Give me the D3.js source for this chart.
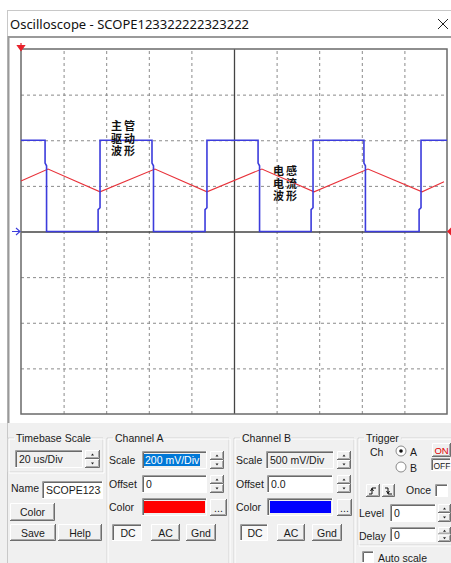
<!DOCTYPE html>
<html>
<head>
<meta charset="utf-8">
<script src="https://cdn.jsdelivr.net/npm/d3@7"></script>
<style>
  html, body { margin: 0; padding: 0; background: #ffffff; }
  svg { display: block; }
  .ui { font-family: "Liberation Sans", Arial, sans-serif; font-size: 10.5px; fill: #1a1a1a; }
</style>
</head>
<body>
<svg id="scope" width="451" height="563"></svg>
<script>
// ---- Screen settings ----
const timeDivUs = 20;          // 20 us/Div
const chAScaleV = 0.2;         // 200 mV/Div
const chBScaleV = 0.5;         // 500 mV/Div
const xDivs = 10, yDivs = 8;

// ---- Channel A (inductor current, red): time (us) / volts ----
const chATime = [0, 12.7, 37.1, 62.9, 87.3, 113.1, 137.6, 162.9, 188.3, 198.6];
const chAVolt = [0.221, 0.274, 0.174, 0.274, 0.174, 0.274, 0.174, 0.274, 0.174, 0.218];

// ---- Channel B (switch drive, blue): time (us) / volts ----
const chBTime = [0,
  11.3, 11.3, 12.0, 12.0,   36.2, 36.2, 37.1, 37.1,
  61.5, 61.5, 62.2, 62.2,   86.4, 86.4, 87.3, 87.3,
  111.3, 111.3, 112.0, 112.0, 136.2, 136.2, 137.1, 137.1,
  161.0, 161.0, 161.7, 161.7, 186.9, 186.9, 187.8, 187.8,
  200];
const chBVolt = [1,
  1, 0.75, 0.72, 0,   0, 0.24, 0.26, 1,
  1, 0.75, 0.72, 0,   0, 0.24, 0.26, 1,
  1, 0.75, 0.72, 0,   0, 0.24, 0.26, 1,
  1, 0.75, 0.72, 0,   0, 0.24, 0.26, 1,
  1];

// ---- Annotation texts ----
const driveLabel = ["主管", "驱动", "波形"];
const currentLabel = ["电感", "电流", "波形"];

const svg = d3.select("#scope");

// ---------- window chrome ----------
svg.append("rect").attr("x", 0).attr("y", 423).attr("width", 451).attr("height", 140).attr("fill", "#f0f0f0");
svg.append("line").attr("x1", 7).attr("x2", 451).attr("y1", 10.5).attr("y2", 10.5).attr("stroke", "#c8c8c8");
svg.append("line").attr("x1", 7.5).attr("x2", 7.5).attr("y1", 10).attr("y2", 563).attr("stroke", "#c8c8c8");
svg.append("text").attr("x", 10).attr("y", 29)
  .style("font-family", "'Noto Sans', sans-serif").style("font-size", "13px").style("fill", "#111")
  .text("Oscilloscope - SCOPE123322222323222");
svg.append("path").attr("d", "M438,19 L448,29 M448,19 L438,29").attr("stroke", "#222").attr("stroke-width", 1);
// display frame
svg.append("line").attr("x1", 8).attr("x2", 451).attr("y1", 37).attr("y2", 37).attr("stroke", "#9a9a9a").attr("stroke-width", 2);
svg.append("line").attr("x1", 8.5).attr("x2", 8.5).attr("y1", 36).attr("y2", 423).attr("stroke", "#9a9a9a").attr("stroke-width", 2);

// ---------- plot ----------
const plot = { left: 21, right: 447, top: 49, bottom: 414 };
const x = d3.scaleLinear().domain([0, xDivs * timeDivUs]).range([plot.left, plot.right]);
const yA = d3.scaleLinear().domain([-yDivs / 2 * chAScaleV, yDivs / 2 * chAScaleV]).range([plot.bottom, plot.top]);
const yB = d3.scaleLinear().domain([-yDivs / 2 * chBScaleV, yDivs / 2 * chBScaleV]).range([plot.bottom, plot.top]);

const g = svg.append("g");
g.append("rect").attr("x", plot.left).attr("y", plot.top)
  .attr("width", plot.right - plot.left).attr("height", plot.bottom - plot.top).attr("fill", "#fff");

// dotted division grid from the axes
const xTicks = d3.range(1, xDivs).map(i => i * timeDivUs);
const yTicks = d3.range(1, yDivs).map(i => -yDivs / 2 * chAScaleV + i * chAScaleV);

const gx = g.append("g").attr("transform", `translate(0,${plot.bottom})`)
  .call(d3.axisBottom(x).tickValues(xTicks).tickSize(-(plot.bottom - plot.top)).tickFormat(""));
const gy = g.append("g").attr("transform", `translate(${plot.left},0)`)
  .call(d3.axisLeft(yA).tickValues(yTicks).tickSize(-(plot.right - plot.left)).tickFormat(""));
[gx, gy].forEach(a => {
  a.select(".domain").remove();
  a.selectAll(".tick line").attr("stroke", "#8a8a8a").attr("stroke-dasharray", "3,3");
});
gx.selectAll(".tick line").filter(d => d === xDivs / 2 * timeDivUs)
  .attr("stroke", "#444").attr("stroke-dasharray", null).attr("stroke-width", 1.3);
gy.selectAll(".tick line").filter(d => Math.abs(d) < 1e-9)
  .attr("stroke", "#444").attr("stroke-dasharray", null).attr("stroke-width", 1.3);

g.append("rect").attr("x", plot.left).attr("y", plot.top)
  .attr("width", plot.right - plot.left).attr("height", plot.bottom - plot.top)
  .attr("fill", "none").attr("stroke", "#6a6a6a").attr("stroke-width", 1.5);

// traces
const lineA = d3.line().x((d, i) => x(chATime[i])).y((d, i) => yA(chAVolt[i]));
const lineB = d3.line().x((d, i) => x(chBTime[i])).y((d, i) => yB(chBVolt[i]));
g.append("path").datum(chAVolt).attr("d", lineA).attr("fill", "none").attr("stroke", "#e8323a").attr("stroke-width", 1.1);
g.append("path").datum(chBVolt).attr("d", lineB).attr("fill", "none").attr("stroke", "#3c3cdc").attr("stroke-width", 1.6);

// trigger / ground markers
g.append("path").attr("d", `M${plot.left},43 V50 M${plot.left - 3.5},45.5 L${plot.left + 3.5},45.5 L${plot.left},50.5 Z`)
  .attr("stroke", "#e8202a").attr("fill", "#e8202a").attr("stroke-width", 1.2);
g.append("path").attr("d", `M12,${yB(0)} H${plot.left - 1} M${plot.left - 5},${yB(0) - 3.5} L${plot.left - 1},${yB(0)} L${plot.left - 5},${yB(0) + 3.5}`)
  .attr("stroke", "#3c3cdc").attr("fill", "none").attr("stroke-width", 1.1);
g.append("path").attr("d", `M${plot.right},${yA(0)} L451,${yA(0) - 4} L451,${yA(0) + 4} Z`).attr("fill", "#e8202a");

// annotations: one stacked, three-line text block each
function note(lines, xLeft, yFirst) {
  g.append("text")
    .style("font-family", "'Noto Sans CJK SC', sans-serif").style("font-size", "11px")
    .style("font-weight", "bold").style("letter-spacing", "2px").attr("fill", "#111")
    .selectAll("tspan").data(lines).join("tspan")
    .attr("x", xLeft).attr("y", (d, i) => yFirst + i * 12.5).text(d => d);
}
note(driveLabel, 111, 130);
note(currentLabel, 273, 175);

// ---------- control panel ----------
const ui = svg.append("g").attr("class", "ui");

function label(xp, yp, t) {
  return ui.append("text").attr("x", xp).attr("y", yp).text(t);
}
function group(x0, y0, x1, y1, title, titleW) {
  const p = `M${x0 + 6},${y0} H${x0} V${y1} H${x1} V${y0} H${x0 + 8 + titleW}`;
  ui.append("path").attr("d", p).attr("fill", "none").attr("stroke", "#d5d5d5").attr("stroke-width", 1);
  ui.append("path").attr("d", p).attr("transform", "translate(1,1)").attr("fill", "none").attr("stroke", "#ffffff").attr("stroke-width", 1);
  label(x0 + 8, y0 + 4, title);
}
function raised(x0, y0, w, h, t, color, size) {
  ui.append("rect").attr("x", x0).attr("y", y0).attr("width", w).attr("height", h).attr("fill", "#f0f0f0");
  ui.append("path").attr("d", `M${x0 + 0.5},${y0 + h} V${y0 + 0.5} H${x0 + w}`).attr("stroke", "#ffffff").attr("fill", "none");
  ui.append("path").attr("d", `M${x0},${y0 + h - 0.5} H${x0 + w - 0.5} V${y0}`).attr("stroke", "#6e6e6e").attr("fill", "none");
  ui.append("path").attr("d", `M${x0 + 1},${y0 + h - 1.5} H${x0 + w - 1.5} V${y0 + 1}`).attr("stroke", "#a8a8a8").attr("fill", "none");
  if (t) ui.append("text").attr("x", x0 + w / 2).attr("y", y0 + h / 2 + 4).attr("text-anchor", "middle")
    .style("fill", color || "#1a1a1a").style("font-size", size || null).text(t);
}
function sunken(x0, y0, w, h, fill) {
  ui.append("rect").attr("x", x0).attr("y", y0).attr("width", w).attr("height", h).attr("fill", fill);
  ui.append("path").attr("d", `M${x0 + 0.5},${y0 + h} V${y0 + 0.5} H${x0 + w}`).attr("stroke", "#a0a0a0").attr("fill", "none");
  ui.append("path").attr("d", `M${x0 + 1.5},${y0 + h - 1} V${y0 + 1.5} H${x0 + w - 1}`).attr("stroke", "#696969").attr("fill", "none");
  ui.append("path").attr("d", `M${x0},${y0 + h - 0.5} H${x0 + w - 0.5} V${y0}`).attr("stroke", "#ffffff").attr("fill", "none");
}
function field(x0, y0, w, h, t, fill) {
  sunken(x0, y0, w, h, fill);
  const id = "clip" + Math.round(x0) + "_" + Math.round(y0);
  svg.append("clipPath").attr("id", id).append("rect").attr("x", x0 + 2).attr("y", y0 + 2).attr("width", w - 4).attr("height", h - 4);
  ui.append("text").attr("x", x0 + 4).attr("y", y0 + h / 2 + 4).attr("clip-path", `url(#${id})`).text(t);
}
function pressed(x0, y0, w, h, t, size) {
  sunken(x0, y0, w, h, "#f8f8f8");
  ui.append("text").attr("x", x0 + w / 2 + 1).attr("y", y0 + h / 2 + 4).attr("text-anchor", "middle")
    .style("font-size", size || null).text(t);
}
function spinner(x0, y0, w, h) {
  const hh = h / 2;
  raised(x0, y0, w, hh);
  raised(x0, y0 + hh, w, hh);
  const cx = x0 + w / 2;
  ui.append("path").attr("d", `M${cx - 1.5},${y0 + hh / 2 + 1} L${cx + 1.5},${y0 + hh / 2 + 1} L${cx},${y0 + hh / 2 - 1} Z`).attr("fill", "#222");
  ui.append("path").attr("d", `M${cx - 1.5},${y0 + hh + hh / 2 - 1} L${cx + 1.5},${y0 + hh + hh / 2 - 1} L${cx},${y0 + hh + hh / 2 + 1} Z`).attr("fill", "#222");
}
function checkbox(x0, y0, s) {
  sunken(x0, y0, s, s, "#ffffff");
}

// Timebase
group(8, 438, 103, 472, "Timebase Scale", 73);
field(15, 450, 68, 18, "20 us/Div", "#f0f0f0");
spinner(85, 450, 15, 18);
label(11, 492, "Name");
field(42, 481, 61, 18, "SCOPE1233", "#ffffff");
raised(10, 503, 45, 18, "Color");
raised(10, 524, 46, 17, "Save");
raised(58, 524, 44, 17, "Help");

// Channel A
group(107, 438, 229, 570, "Channel A", 46);
label(109, 464, "Scale");
sunken(142, 451, 65, 18, "#f0f0f0");
ui.append("rect").attr("x", 144).attr("y", 454).attr("width", 56).attr("height", 12).attr("fill", "#0078d7");
ui.append("text").attr("x", 145).attr("y", 464).style("fill", "#ffffff").text("200 mV/Div");
spinner(210, 451, 14, 18);
label(109, 488, "Offset");
field(142, 475, 65, 18, "0", "#ffffff");
spinner(210, 475, 14, 18);
label(109, 511, "Color");
sunken(142, 498, 65, 18, "#f0f0f0");
ui.append("rect").attr("x", 144).attr("y", 501).attr("width", 61).attr("height", 12).attr("fill", "#ff0000");
raised(210, 499, 17, 17, "...");
pressed(112, 524, 30, 17, "DC");
raised(151, 524, 29, 17, "AC");
raised(186, 524, 30, 17, "Gnd");

// Channel B
group(234, 438, 354, 570, "Channel B", 46);
label(236, 464, "Scale");
field(266, 451, 68, 18, "500 mV/Div", "#f0f0f0");
spinner(337, 451, 14, 18);
label(236, 488, "Offset");
field(267, 475, 66, 18, "0.0", "#ffffff");
spinner(337, 475, 14, 18);
label(236, 511, "Color");
sunken(267, 498, 66, 18, "#f0f0f0");
ui.append("rect").attr("x", 270).attr("y", 501).attr("width", 61).attr("height", 12).attr("fill", "#0000ff");
raised(337, 499, 15, 17, "...");
pressed(240, 524, 28, 17, "DC");
raised(277, 524, 28, 17, "AC");
raised(312, 524, 30, 17, "Gnd");

// Trigger
group(358, 438, 460, 545, "Trigger", 35);
label(370, 456, "Ch");
[[451, true, "A"], [467, false, "B"]].forEach(([cy, on, t]) => {
  ui.append("circle").attr("cx", 401).attr("cy", cy).attr("r", 5).attr("fill", "#fff").attr("stroke", "#8a8a8a");
  if (on) ui.append("circle").attr("cx", 401).attr("cy", cy).attr("r", 1.8).attr("fill", "#111");
  label(410, cy + 5, t);
});
raised(432, 443, 19, 14, "ON", "#e00000", "9.5px");
pressed(431, 458, 20, 13, "OFF", "8.5px");
raised(366, 484, 14, 13);
raised(382, 484, 13, 13);
ui.append("path").attr("d", "M369,494 H372 V488 H376 M370.5,491 L372,488.5 L373.5,491").attr("stroke", "#111").attr("fill", "none");
ui.append("path").attr("d", "M385,488 H388 V494 H392 M386.5,491 L388,493.5 L389.5,491").attr("stroke", "#111").attr("fill", "none");
label(406, 494, "Once");
checkbox(435, 484, 13);
label(359, 517, "Level");
field(390, 504, 46, 18, "0", "#ffffff");
spinner(438, 504, 13, 18);
label(359, 540, "Delay");
field(390, 527, 46, 15, "0", "#ffffff");
spinner(438, 527, 13, 15);
checkbox(362, 551, 12);
label(378, 562, "Auto scale");
</script>
</body>
</html>
